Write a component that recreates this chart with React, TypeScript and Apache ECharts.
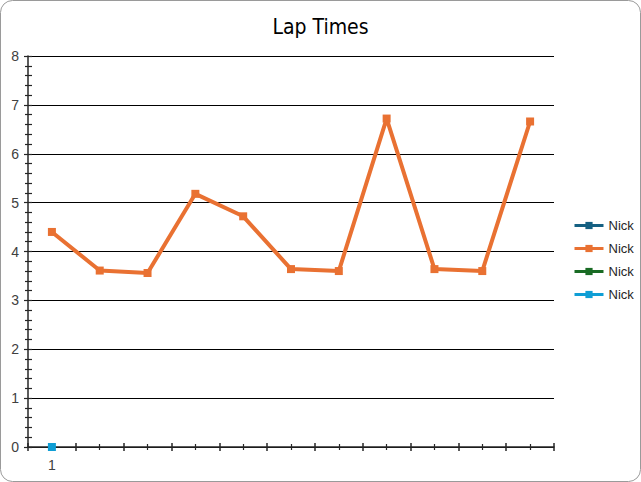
import React, { useEffect, useRef } from "react";
import * as echarts from "echarts";

const categories = ["1", "", "", "", "", "", "", "", "", "", ""];
const seriesNames = ["Nick", "Nick ", "Nick  ", "Nick   "];
const seriesColors = ["#156082", "#E97132", "#196B24", "#0F9ED5"];
const darkBlueValues: (number | null)[] = [];
const orangeValues = [4.4, 3.61, 3.56, 5.18, 4.72, 3.64, 3.6, 6.72, 3.64, 3.6, 6.66];
const greenValues: (number | null)[] = [];
const lightBlueValues = [0];
const yTicks = { min: 0, max: 8, interval: 1 };

const FONT = "'Liberation Sans', Arial, sans-serif";
const NARROW = "'Liberation Sans Narrow', 'DejaVu Sans Condensed', 'Liberation Sans', sans-serif";

export default function App() {
  const ref = useRef<HTMLDivElement>(null);
  useEffect(() => {
    if (!ref.current) return;
    const chart = echarts.init(ref.current, undefined, { renderer: "svg" });
    const allValues = [darkBlueValues, orangeValues, greenValues, lightBlueValues];
    const hiddenBase = {
      axisLine: { show: false },
      axisLabel: { show: false },
      splitLine: { show: false },
    };
    chart.setOption({
      animation: false,
      backgroundColor: "#ffffff",
      title: {
        text: "Lap Times",
        left: "center",
        top: 11,
        textStyle: { fontFamily: NARROW, fontSize: 21, fontWeight: "normal", color: "#000000" },
      },
      graphic: [
        {
          type: "rect",
          shape: { x: 0.5, y: 0.5, width: 640, height: 481, r: 12 },
          style: { fill: "none", stroke: "#9a9a9a", lineWidth: 1 },
          silent: true,
          z: 100,
        },
      ],
      legend: {
        orient: "vertical",
        left: 573,
        top: 219,
        padding: 0,
        itemWidth: 29,
        itemHeight: 9,
        itemGap: 10,
        itemTextGap: 1,
        data: seriesNames,
        formatter: (n: string) => n.trim(),
        lineStyle: { width: 3 },
        textStyle: { fontFamily: FONT, fontSize: 13, color: "#262626" },
      },
      grid: { left: 28, right: 87, top: 56, bottom: 35, containLabel: false },
      xAxis: [
        {
          type: "category",
          data: categories,
          boundaryGap: true,
          axisLine: { show: true, onZero: false, lineStyle: { color: "#262626", width: 1.5 } },
          axisTick: { show: false },
          axisLabel: { interval: 0, fontFamily: FONT, fontSize: 14, color: "#404040", margin: 11 },
          splitLine: { show: false },
        },
        {
          type: "value",
          min: 0,
          max: categories.length,
          interval: 1,
          position: "bottom",
          offset: -4,
          ...hiddenBase,
          axisTick: { show: true, length: 8, lineStyle: { color: "#262626", width: 1.5 } },
          minorTick: { show: false },
        },
        {
          type: "value",
          min: 0,
          max: categories.length,
          interval: 1,
          position: "bottom",
          offset: -3,
          ...hiddenBase,
          axisTick: { show: false },
          minorTick: { show: true, splitNumber: 2, length: 6, lineStyle: { color: "#262626", width: 1.2 } },
        },
      ],
      yAxis: [
        {
          type: "value",
          min: yTicks.min,
          max: yTicks.max,
          interval: yTicks.interval,
          axisLine: { show: true, onZero: false, lineStyle: { color: "#262626", width: 1.5 } },
          axisTick: { show: false },
          axisLabel: { fontFamily: FONT, fontSize: 14, color: "#404040", margin: 9 },
          splitLine: { show: true, lineStyle: { color: "#000000", width: 1 } },
        },
        {
          type: "value",
          min: yTicks.min,
          max: yTicks.max,
          interval: yTicks.interval,
          position: "left",
          offset: -4,
          ...hiddenBase,
          axisTick: { show: true, length: 8, lineStyle: { color: "#262626", width: 1.2 } },
          minorTick: { show: true, splitNumber: 5, length: 7, lineStyle: { color: "#262626", width: 1.2 } },
        },
      ],
      series: seriesNames.map((name, i) => ({
        name,
        type: "line",
        xAxisIndex: 0,
        yAxisIndex: 0,
        data: allValues[i],
        symbol: "rect",
        symbolSize: 8,
        showAllSymbol: true,
        color: seriesColors[i],
        lineStyle: { width: 4, color: seriesColors[i] },
        itemStyle: { color: seriesColors[i] },
        z: 3,
      })),
    });
    return () => chart.dispose();
  }, []);
  return (
    <div
      ref={ref}
      style={{ position: "fixed", left: 0, top: 0, width: 641, height: 482 }}
    />
  );
}
